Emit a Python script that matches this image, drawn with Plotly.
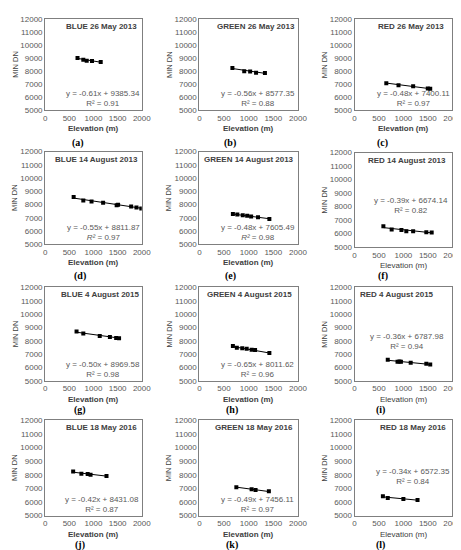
import plotly.graph_objects as go

# panel titles, in reading order (a) .. (l)
titles = ["BLUE 26 May 2013", "GREEN 26 May 2013", "RED 26 May 2013",
          "BLUE 14 August 2013", "GREEN 14 August 2013", "RED 14 August 2013",
          "BLUE 4 August 2015", "GREEN 4 August 2015", "RED 4 August 2015",
          "BLUE 18 May 2016", "GREEN 18 May 2016", "RED 18 May 2016"]
letters = ["a", "b", "c", "d", "e", "f", "g", "h", "i", "j", "k", "l"]

# elevation (m) and MIN DN per panel
x_a = [670, 790, 860, 970, 1150]
y_a = [9000, 8880, 8800, 8780, 8700]
x_b = [670, 910, 1030, 1150, 1330]
y_b = [8250, 7990, 7970, 7880, 7860]
x_c = [650, 900, 1200, 1500, 1550]
y_c = [7080, 6920, 6840, 6680, 6660]
x_d = [590, 790, 960, 1200, 1480, 1510, 1780, 1890, 1990]
y_d = [8560, 8300, 8220, 8130, 7950, 7980, 7850, 7770, 7700]
x_e = [680, 770, 880, 970, 1050, 1190, 1420]
y_e = [7290, 7240, 7180, 7140, 7090, 7040, 6900]
x_f = [590, 760, 960, 1060, 1200, 1470, 1580]
y_f = [6550, 6300, 6260, 6180, 6170, 6100, 6080]
x_g = [650, 790, 1130, 1340, 1470, 1530]
y_g = [8690, 8550, 8360, 8290, 8220, 8200]
x_h = [680, 760, 870, 960, 1060, 1130, 1420]
y_h = [7620, 7490, 7440, 7410, 7330, 7310, 7080]
x_i = [680, 880, 920, 950, 1150, 1470, 1550]
y_i = [6580, 6440, 6450, 6430, 6350, 6280, 6220]
x_j = [580, 750, 880, 940, 1270]
y_j = [8240, 8070, 8060, 8000, 7900]
x_k = [750, 1060, 1140, 1410]
y_k = [7090, 6940, 6880, 6790]
x_l = [580, 680, 1000, 1290]
y_l = [6420, 6290, 6220, 6140]

# linear fits printed on the chart
slopes = [-0.61, -0.56, -0.48, -0.55, -0.48, -0.39, -0.50, -0.65, -0.36, -0.42, -0.49, -0.34]
intercepts = [9385.34, 8577.35, 7400.11, 8811.87, 7605.49, 6674.14,
              8969.58, 8011.62, 6787.98, 8431.08, 7456.11, 6572.35]
r2 = [0.91, 0.88, 0.97, 0.97, 0.98, 0.82, 0.98, 0.96, 0.94, 0.87, 0.97, 0.84]

xs = [x_a, x_b, x_c, x_d, x_e, x_f, x_g, x_h, x_i, x_j, x_k, x_l]
ys = [y_a, y_b, y_c, y_d, y_e, y_f, y_g, y_h, y_i, y_j, y_k, y_l]

# layout (pixels of the 461x550 page)
W, H = 461, 550
cols = [(36, 135), (194, 295), (353, 453)]
rows = [(7, 100), (142, 236), (280, 375), (415, 512)]
title_cx = [0.58, 0.57, 0.58, 0.53, 0.5, 0.54, 0.57, 0.51, 0.43, 0.58, 0.555, 0.6]
eq_cx = [0.6, 0.59, 0.6, 0.6, 0.59, 0.577, 0.6, 0.593, 0.54, 0.59, 0.587, 0.6]
eq_cy = [None, None, None, None, None, 0.44, None, None, 0.42, None, None, 0.41]
lab_px = [(70, 133), (225, 133), (382, 133), (72, 268), (226, 268), (382, 268),
          (72, 405), (227, 405), (380, 405), (72, 542), (227, 542), (380, 542)]

FONT = "Liberation Sans, Arial, sans-serif"
TXT = "#404040"
TICK = "#595959"

fig = go.Figure()
annotations = []

for i in range(12):
    r, c = divmod(i, 3)
    n = i + 1
    xa = "x" if n == 1 else f"x{n}"
    ya = "y" if n == 1 else f"y{n}"

    x0, x1 = min(xs[i]), max(xs[i])
    fig.add_trace(go.Scatter(
        x=[x0, x1], y=[slopes[i] * x0 + intercepts[i], slopes[i] * x1 + intercepts[i]],
        mode="lines", line=dict(color="black", width=1),
        xaxis=xa, yaxis=ya, showlegend=False, hoverinfo="skip"))
    fig.add_trace(go.Scatter(
        x=xs[i], y=ys[i], mode="markers",
        marker=dict(symbol="square", size=4, color="black"),
        xaxis=xa, yaxis=ya, showlegend=False))

    left, right = cols[c]
    top, bottom = rows[r]
    if i == 5:
        top, bottom = 143, 239
    xdom = [left / W, right / W]
    ydom = [1 - bottom / H, 1 - top / H]

    axis_common = dict(showgrid=False, zeroline=False, showline=True, mirror=True,
                       linecolor="#7f7f7f", linewidth=1, ticks="", tickformat="d",
                       tickfont=dict(family=FONT, size=8, color=TICK))
    fig.layout[f"xaxis{'' if n == 1 else n}"] = dict(
        domain=xdom, anchor=ya, range=[0, 2000], tickvals=[0, 500, 1000, 1500, 2000],
        **axis_common)
    fig.layout[f"yaxis{'' if n == 1 else n}"] = dict(
        domain=ydom, anchor=xa, range=[5000, 12000],
        tickvals=list(range(5000, 12001, 1000)), **axis_common)

    xd = f"{xa} domain"
    yd = f"{ya} domain"

    # panel title
    annotations.append(dict(
        text=f"<b>{titles[i]}</b>", xref=xd, yref=yd, x=title_cx[i], y=0.92,
        xanchor="center", yanchor="middle", showarrow=False,
        font=dict(family=FONT, size=8, color=TXT)))

    # fit equation
    rlabel = "<i>R²</i>" if i in (3, 4) else "R²"
    eq = f"y = {slopes[i]:.2f}x + {intercepts[i]:.2f}<br>{rlabel} = {r2[i]:.2f}"
    if eq_cy[i] is None:
        annotations.append(dict(
            text=eq, xref=xd, yref=yd, x=eq_cx[i], y=0.0, xanchor="center",
            yanchor="bottom", showarrow=False, align="center",
            font=dict(family=FONT, size=8, color=TICK)))
    else:
        annotations.append(dict(
            text=eq, xref=xd, yref=yd, x=eq_cx[i], y=eq_cy[i], xanchor="center",
            yanchor="middle", showarrow=False, align="center",
            font=dict(family=FONT, size=8, color=TICK)))

    # axis titles
    red = i in (5, 8, 11)
    xt = "Elevation (m)" if red else "<b>Elevation (m)</b>"
    annotations.append(dict(
        text=xt, xref=xd, yref=yd, x=0.5, y=0, xanchor="center", yanchor="middle",
        yshift=-18.5, showarrow=False,
        font=dict(family=FONT, size=8, color=TXT)))
    annotations.append(dict(
        text="MIN DN", xref=xd, yref=yd, x=0, y=0.5, xanchor="center", yanchor="middle",
        xshift=-30, textangle=-90, showarrow=False,
        font=dict(family=FONT, size=7.5, color=TXT)))

    # sub-figure letter
    lx, ly = lab_px[i]
    annotations.append(dict(
        text=f"<b>({letters[i]})</b>", xref="paper", yref="paper",
        x=lx / W, y=1 - ly / H, xanchor="center", yanchor="middle", showarrow=False,
        font=dict(family="Liberation Serif, Times New Roman, serif", size=10, color="black")))

fig.update_layout(
    width=W, height=H, margin=dict(l=0, r=0, t=0, b=0),
    paper_bgcolor="white", plot_bgcolor="white",
    annotations=annotations, showlegend=False)

fig.write_html("out.html")
